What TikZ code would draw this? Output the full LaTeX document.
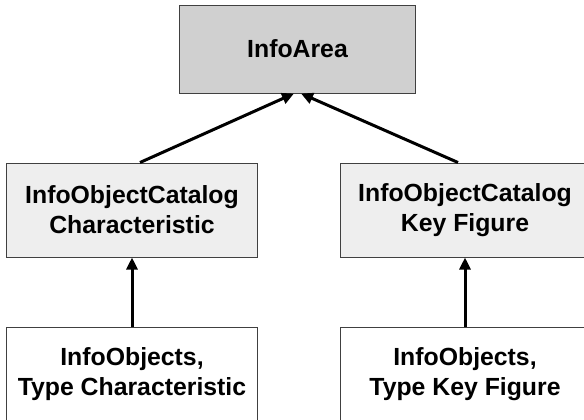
\documentclass[tikz,border=0pt]{standalone}
\usepackage{fontspec}
\setmainfont{Liberation Sans}
\usetikzlibrary{arrows.meta,calc}
\definecolor{areafill}{HTML}{D0D0D0}
\definecolor{catfill}{HTML}{EEEEEE}
\definecolor{edge}{HTML}{404040}
\tikzset{
  box/.style={draw=edge, line width=1bp, minimum width=250bp, minimum height=94bp,
    inner sep=0pt, align=center, font=\fontsize{24.8bp}{30bp}\selectfont\bfseries},
  conn/.style={line width=3bp, -{Triangle[length=12bp,width=11bp]}}
}
\begin{document}
\begin{tikzpicture}[x=1bp,y=-1bp]
\useasboundingbox (0,0) rectangle (584,419);
\clip (0,0) rectangle (584,419);
\node[box, fill=areafill, minimum width=236bp, minimum height=88bp] (area) at (297.5,49) {InfoArea};
\node[box, fill=catfill] (cl) at (132,210) {InfoObjectCatalog\\Characteristic};
\node[box, fill=catfill] (cr) at (465,210) {InfoObjectCatalog\\Key Figure};
\node[box, fill=white] (bl) at (132,374) {InfoObjects,\\Type Characteristic};
\node[box, fill=white] (br) at (465,374) {InfoObjects,\\Type Key Figure};
\coordinate (clTop) at ($(cl.north)+(8,0)$);
\coordinate (crTop) at ($(cr.north)+(-7,0)$);
\coordinate (aL) at ($(area.south)+(-3.5,0)$);
\coordinate (aR) at ($(area.south)+(3.5,0)$);
\draw[conn] (clTop) -- (aL);
\draw[conn] (crTop) -- (aR);
\draw[conn] (bl.north) -- (cl.south);
\draw[conn] (br.north) -- (cr.south);
\end{tikzpicture}
\end{document}
